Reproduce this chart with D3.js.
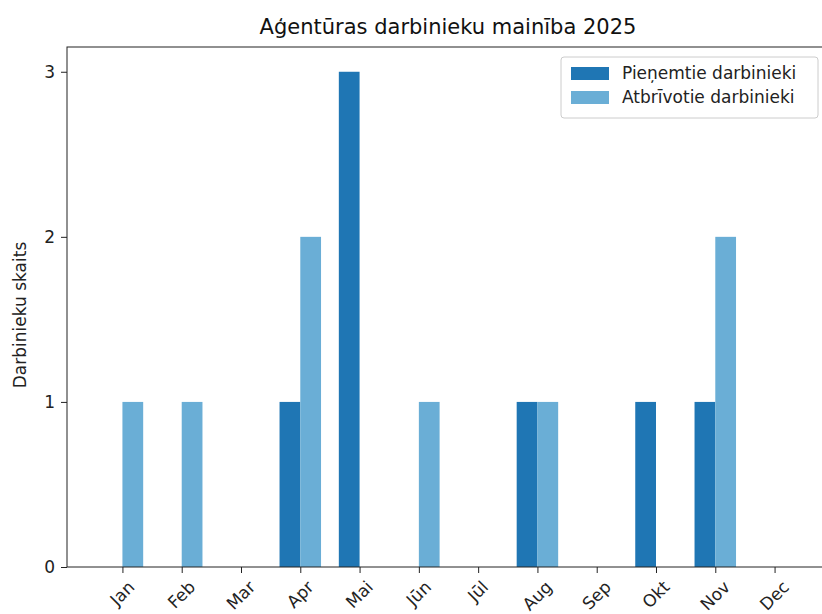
<!DOCTYPE html>
<html>
<head>
<meta charset="utf-8">
<script src="https://cdn.jsdelivr.net/npm/d3@7"></script>
<style>
body { margin: 0; background: #fff; }
svg { font-family: "DejaVu Sans", sans-serif; }
</style>
</head>
<body>
<svg id="chart" width="822" height="614"></svg>
<script>
var months = ["Jan", "Feb", "Mar", "Apr", "Mai", "Jūn", "Jūl", "Aug", "Sep", "Okt", "Nov", "Dec"];
var hired = [0, 0, 0, 1, 3, 0, 0, 1, 0, 1, 1, 0];
var released = [1, 1, 0, 2, 0, 1, 0, 1, 0, 0, 2, 0];
var yTicks = [0, 1, 2, 3];
var seriesNames = ["Pieņemtie darbinieki", "Atbrīvotie darbinieki"];
var colors = ["#1f76b4", "#6aaed6"];

var svg = d3.select("#chart");
var plotLeft = 67, plotBottom = 567, plotTop = 47, plotRight = 830;
var barW = 0.35;
var fontSize = 17;

// index scale like matplotlib: bars at i - w and i, 5% margins
var x = d3.scaleLinear().domain([-0.935, 11.935]).range([plotLeft, plotRight]);
var y = d3.scaleLinear().domain([0, 3.15]).range([plotBottom, plotTop]);

var series = [hired, released];
series.forEach(function(vals, s){
	svg.append("g").selectAll("rect")
		.data(vals)
		.enter()
		.append("rect")
		.attr("x", function(d, i){ return x(s === 0 ? i - barW : i); })
		.attr("width", x(barW) - x(0))
		.attr("y", function(d){ return y(d); })
		.attr("height", function(d){ return y(0) - y(d); })
		.attr("fill", colors[s]);
});

// axes
var yAxis = d3.axisLeft(y).tickValues(yTicks).tickFormat(d3.format("d")).tickSize(6).tickPadding(6);
var gy = svg.append("g").attr("transform", "translate(" + plotLeft + ",0)").call(yAxis);
gy.select(".domain").remove();
gy.selectAll("line").attr("stroke", "#222");
gy.selectAll("text").attr("font-size", fontSize).attr("fill", "#222").attr("font-family", "DejaVu Sans, sans-serif");

var xAxis = d3.axisBottom(x).tickValues(d3.range(months.length)).tickFormat(function(i){ return months[i]; }).tickSize(6);
var gx = svg.append("g").attr("transform", "translate(0," + plotBottom + ")").call(xAxis);
gx.select(".domain").remove();
gx.selectAll("line").attr("stroke", "#222");
gx.selectAll("text")
	.attr("font-size", fontSize)
	.attr("fill", "#222")
	.attr("font-family", "DejaVu Sans, sans-serif")
	.attr("text-anchor", "middle")
	.attr("dy", null)
	.attr("y", 0)
	.attr("dominant-baseline", "middle")
	.attr("transform", function(){
		// rotated label box sits just under the tick, centred on it
		var w = this.getComputedTextLength();
		var off = 11 + (w + fontSize * 1.1) / (2 * Math.SQRT2);
		return "translate(0," + off + ") rotate(-45)";
	});

// frame
svg.append("rect")
	.attr("x", plotLeft).attr("y", plotTop)
	.attr("width", plotRight - plotLeft).attr("height", plotBottom - plotTop)
	.attr("fill", "none").attr("stroke", "#222").attr("stroke-width", 1);

// title + label
svg.append("text")
	.attr("x", 448).attr("y", 34)
	.attr("text-anchor", "middle")
	.attr("font-size", 21).attr("fill", "#111")
	.text("Aģentūras darbinieku mainība 2025");

svg.append("text")
	.attr("transform", "translate(26," + ((plotTop + plotBottom) / 2 + 8) + ") rotate(-90)")
	.attr("text-anchor", "middle")
	.attr("font-size", fontSize).attr("fill", "#222")
	.text("Darbinieku skaits");

// legend
var lg = svg.append("g").attr("transform", "translate(561,57)");
lg.append("rect")
	.attr("width", 257).attr("height", 61).attr("rx", 3)
	.attr("fill", "#fff").attr("fill-opacity", 0.8)
	.attr("stroke", "#ccc");
seriesNames.forEach(function(name, i){
	lg.append("rect")
		.attr("x", 10).attr("y", 10 + i * 24)
		.attr("width", 38).attr("height", 13)
		.attr("fill", colors[i]);
	lg.append("text")
		.attr("x", 61).attr("y", 17 + i * 24)
		.attr("dominant-baseline", "middle")
		.attr("font-size", fontSize).attr("fill", "#222")
		.text(name);
});
</script>
</body>
</html>
